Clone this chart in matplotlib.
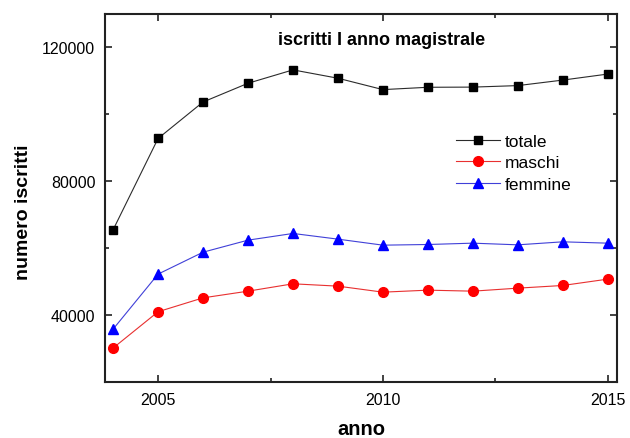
import matplotlib.pyplot as plt
from matplotlib.ticker import MultipleLocator

plt.rcParams['font.family'] = ['Liberation Sans', 'DejaVu Sans']

anni = [2004, 2005, 2006, 2007, 2008, 2009, 2010, 2011, 2012, 2013, 2014, 2015]
totale = [65500, 92800, 103700, 109300, 113300, 110800, 107400, 108100, 108150, 108600, 110250, 112050]
maschi = [30150, 41000, 45150, 47150, 49350, 48650, 46850, 47450, 47150, 48050, 48850, 50750]
femmine = [35800, 52250, 58800, 62400, 64400, 62700, 60900, 61100, 61500, 61000, 61900, 61500]

fig = plt.figure(figsize=(6.3, 4.39), dpi=100)
ax = fig.add_axes([0.1667, 0.1276, 0.8123, 0.8382])

ax.plot(anni, totale, color='#2b2b2b', lw=0.8, marker='s', ms=6, mfc='black', mec='black', label='totale')
ax.plot(anni, maschi, color='#e83030', lw=0.8, marker='o', ms=7, mfc='#ff0000', mec='#ff0000', label='maschi')
ax.plot(anni, femmine, color='#4040d8', lw=0.8, marker='^', ms=7.5, mfc='#0000ff', mec='#0000ff', label='femmine')

ax.set_xlim(2003.82, 2015.2)
ax.set_ylim(20000, 130000)
ax.xaxis.set_major_locator(MultipleLocator(5))
ax.xaxis.set_minor_locator(MultipleLocator(2.5))
ax.yaxis.set_major_locator(MultipleLocator(40000))
ax.yaxis.set_minor_locator(MultipleLocator(20000))

ax.tick_params(which='both', direction='in', top=True, right=True, labelsize=11.5, width=1.2, color='#222222')
ax.tick_params(which='major', length=5, pad=7)
ax.tick_params(which='minor', length=3)
for s in ax.spines.values():
    s.set_linewidth(1.5)
    s.set_color('#222222')

ax.set_xlabel('anno', fontsize=14.5, fontweight='bold', labelpad=9)
ax.set_ylabel('numero iscritti', fontsize=14, fontweight='bold')
ax.yaxis.set_label_coords(-0.143, 0.465)

ax.text(0.54, 0.932, 'iscritti I anno magistrale', transform=ax.transAxes,
        ha='center', va='center', fontsize=13, fontweight='bold')

ax.legend(loc='center left', bbox_to_anchor=(0.68, 0.596), frameon=False,
          fontsize=12.5, handlelength=2.5, handletextpad=0.3, labelspacing=0.36,
          borderaxespad=0, borderpad=0.2)

fig.savefig('out.png', dpi=100)
